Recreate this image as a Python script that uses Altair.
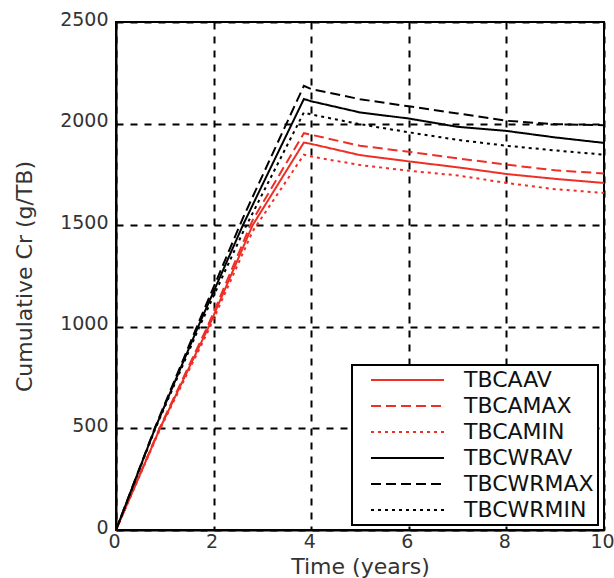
import altair as alt
import pandas as pd

# Time axes (years) for the two groups of series
TIME_CA = [0, 0.9, 1.9, 2.8, 3.85, 4, 5, 6, 7, 8, 9, 10]
TIME_CWR = [0, 0.8, 1.7, 2.6, 3.85, 4, 5, 6, 7, 8, 9, 10]

# Cumulative Cr (g/TB)
TBCA_AV = [0, 500, 1000, 1500, 1907, 1900, 1845, 1814, 1785, 1752, 1728, 1708]
TBCA_MAX = [0, 505, 1015, 1525, 1953, 1945, 1891, 1861, 1829, 1798, 1770, 1755]
TBCA_MIN = [0, 495, 985, 1470, 1847, 1838, 1796, 1768, 1745, 1708, 1677, 1659]
TBCWR_AV = [0, 500, 1010, 1500, 2121, 2110, 2055, 2025, 1984, 1964, 1932, 1905]
TBCWR_MAX = [0, 505, 1025, 1535, 2186, 2170, 2120, 2085, 2050, 2014, 1997, 1992]
TBCWR_MIN = [0, 495, 995, 1465, 2055, 2045, 1997, 1957, 1920, 1891, 1868, 1847]

SERIES = ["TBCAAV", "TBCAMAX", "TBCAMIN", "TBCWRAV", "TBCWRMAX", "TBCWRMIN"]
COLORS = ["#ee2f26", "#ee2f26", "#ee2f26", "#000000", "#000000", "#000000"]
DASHES = [[1, 0], [10, 5], [3, 4], [1, 0], [10, 5], [3, 4]]

X_TICKS = [0, 2, 4, 6, 8, 10]
Y_TICKS = [0, 500, 1000, 1500, 2000, 2500]

rows = []
for name, times, vals in [
    ("TBCAAV", TIME_CA, TBCA_AV),
    ("TBCAMAX", TIME_CA, TBCA_MAX),
    ("TBCAMIN", TIME_CA, TBCA_MIN),
    ("TBCWRAV", TIME_CWR, TBCWR_AV),
    ("TBCWRMAX", TIME_CWR, TBCWR_MAX),
    ("TBCWRMIN", TIME_CWR, TBCWR_MIN),
]:
    for t, v in zip(times, vals):
        rows.append({"series": name, "time": t, "cr": v})
df = pd.DataFrame(rows)

FONT = "DejaVu Sans"
TEXT = "#333333"

chart = (
    alt.Chart(df)
    .mark_line(strokeWidth=2)
    .encode(
        x=alt.X(
            "time:Q",
            title="Time (years)",
            scale=alt.Scale(domain=[0, 10], nice=False),
            axis=alt.Axis(
                values=X_TICKS,
                labelPadding=2,
                labelOffset=-2,
                titleX=244,
                titleY=43,
                titleBaseline="alphabetic",
                titleAlign="center",
            ),
        ),
        y=alt.Y(
            "cr:Q",
            title="Cumulative Cr (g/TB)",
            scale=alt.Scale(domain=[0, 2500], nice=False),
            axis=alt.Axis(
                values=Y_TICKS,
                format="d",
                labelPadding=8,
                labelOffset=-3,
                titleX=-92,
                titleY=254,
                titleAngle=270,
                titleBaseline="middle",
                titleAlign="center",
            ),
        ),
        color=alt.Color(
            "series:N",
            title=None,
            sort=SERIES,
            scale=alt.Scale(domain=SERIES, range=COLORS),
        ),
        strokeDash=alt.StrokeDash(
            "series:N",
            title=None,
            sort=SERIES,
            scale=alt.Scale(domain=SERIES, range=DASHES),
        ),
    )
    .properties(
        width=488,
        height=508,
        autosize=alt.AutoSizeParams(type="none"),
        padding={"left": 116, "top": 22, "right": 10, "bottom": 48},
    )
    .configure_view(stroke="black", strokeWidth=2)
    .configure_axis(
        domainColor="black",
        domainWidth=2,
        grid=True,
        gridColor="black",
        gridDash=[7, 7],
        gridWidth=2,
        gridOpacity=1,
        ticks=False,
        labelFont=FONT,
        labelFontSize=19,
        labelColor=TEXT,
        labelFlush=False,
        titleFont=FONT,
        titleFontSize=22,
        titleFontWeight="normal",
        titleColor=TEXT,
    )
    .configure_legend(
        orient="none",
        legendX=236,
        legendY=343,
        padding=4,
        strokeColor="black",
        strokeWidth=2,
        fillColor="white",
        symbolType="stroke",
        symbolSize=5329,
        symbolStrokeWidth=2,
        symbolOffset=14,
        clipHeight=22,
        labelOffset=19,
        labelFont=FONT,
        labelFontSize=22,
        labelColor="#111111",
        rowPadding=4,
        labelLimit=400,
    )
)

chart.save("out.html", embed_options={"renderer": "svg", "actions": False})
